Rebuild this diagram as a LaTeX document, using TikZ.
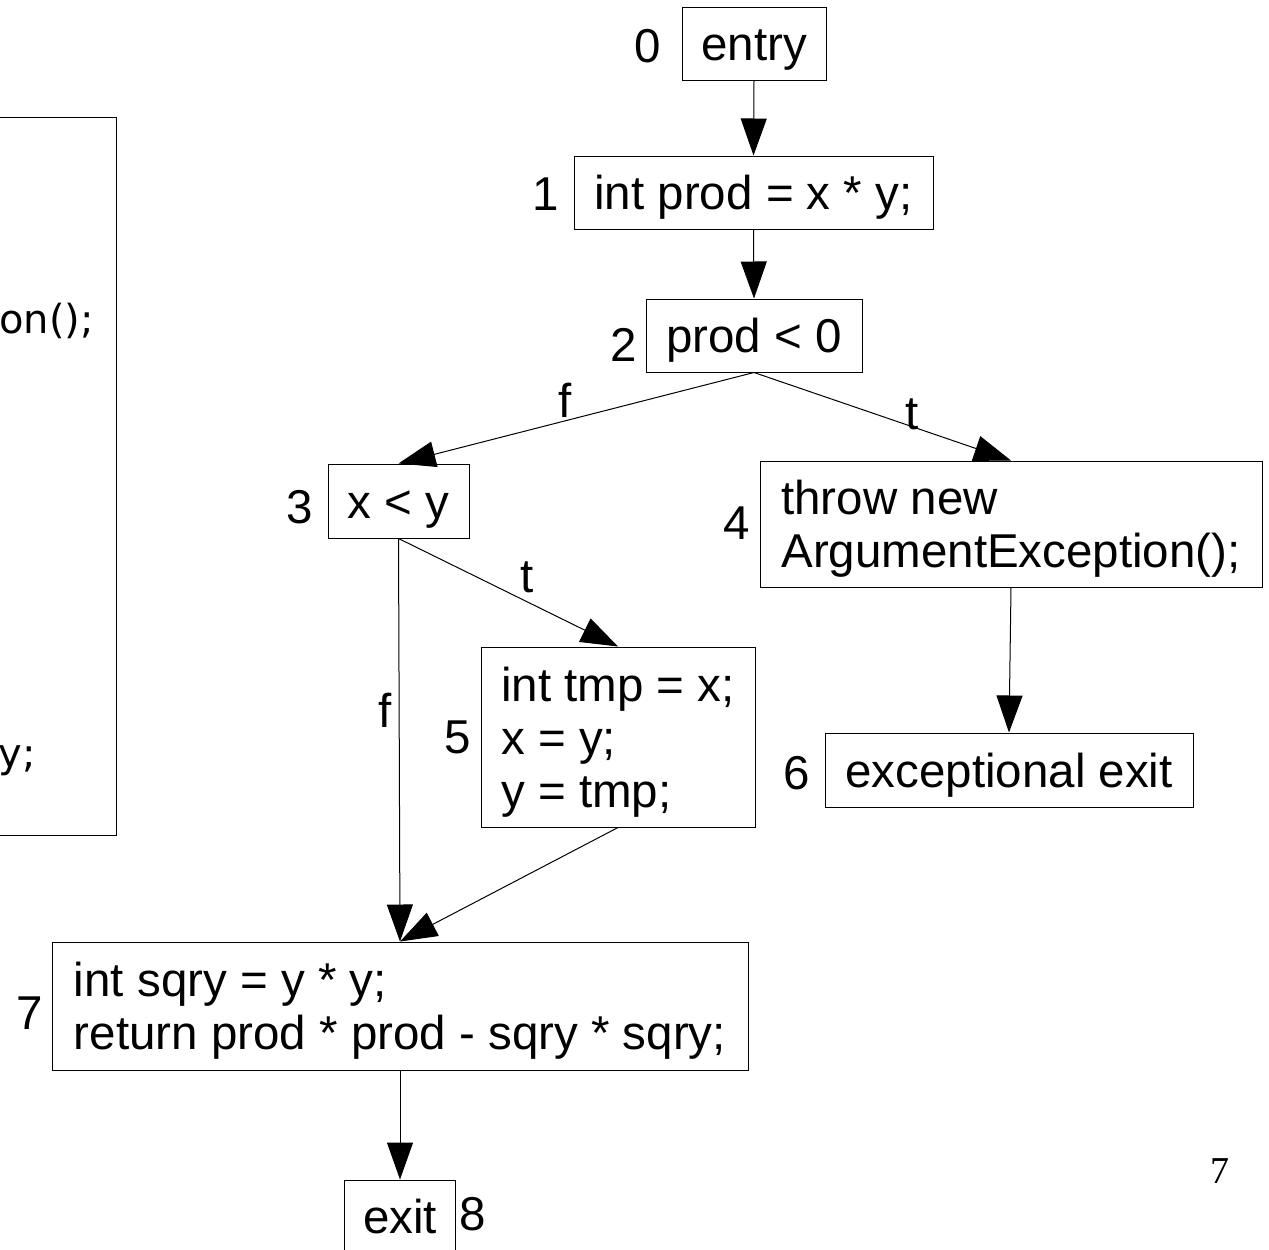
\documentclass[tikz,border=0pt]{standalone}
\usepackage{fontspec}
\setmainfont{Liberation Sans}
\newfontfamily\codefont{DejaVu Sans}
\newfontfamily\pagefont{Liberation Serif}
\usetikzlibrary{arrows.meta}
\newcommand\topstrut{\rule{0pt}{44pt}}
\newcommand\botstrut{\rule[-10pt]{0pt}{10pt}}
\begin{document}
\begin{tikzpicture}[x=1pt,y=-1pt,
  every node/.style={font=\fontsize{47.5}{53}\selectfont},
  blk/.style={draw, line width=1pt, inner sep=0pt, align=left},
  one/.style={text height=34pt, text depth=0pt},
  num/.style={inner sep=0pt, text height=34pt, text depth=0pt},
  codetext/.style={inner sep=0pt, anchor=base east, font=\codefont\fontsize{40}{47}\selectfont},
  flow/.style={line width=1pt, -{Triangle[width=26pt,length=37pt]}}
]
\path[use as bounding box] (0,0) rectangle (1269,1250);
\clip (0,0) rectangle (1269,1250);
\fill[white] (0,0) rectangle (1269,1250);

% partial code box at the left edge
\draw[line width=1pt] (-5,117) rectangle (116,835);
\node[codetext] (codeA) at (94,333) {on();};
\node[codetext] (codeB) at (36,767) {y;};

% blocks
\node[blk, one, minimum width=144pt, minimum height=73pt] (n0) at (754,43.5) {entry};
\node[blk, one, minimum width=359pt, minimum height=73pt] (n1) at (753.5,192.5) {int prod = x * y;};
\node[blk, one, minimum width=216pt, minimum height=73pt] (n2) at (754,335.5) {prod < 0};
\node[blk, one, minimum width=141pt, minimum height=74pt] (n3) at (398.5,501) {x < y};
\node[blk, minimum width=502pt, minimum height=126pt] (n4) at (1011,524) {\topstrut throw new\\ArgumentException();\botstrut};
\node[blk, minimum width=274pt, minimum height=180pt] (n5) at (618,737) {\topstrut int tmp = x;\\x = y;\\y = tmp;\botstrut};
\node[blk, one, minimum width=368pt, minimum height=74pt] (n6) at (1009,770) {exceptional exit};
\node[blk, minimum width=696pt, minimum height=128pt] (n7) at (400,1006) {\topstrut int sqry = y * y;\\return prod * prod - sqry * sqry;\botstrut};
\node[blk, one, minimum width=111pt, minimum height=73pt] (n8) at (400,1216.5) {exit};

% block numbers
\node[num] (l0) at (648,45) {0};
\node[num] (l1) at (546,193) {1};
\node[num] (l2) at (624,344) {2};
\node[num] (l3) at (300,506) {3};
\node[num] (l4) at (737,522) {4};
\node[num] (l5) at (458,736) {5};
\node[num] (l6) at (797,772) {6};
\node[num] (l7) at (30,1012) {7};
\node[num] (l8) at (473,1213) {8};

% connectors
\draw[flow] (n0.south) -- (n1.north);
\draw[flow] (n1.south) -- (n2.north);
\draw[flow] (n2.south) -- (n3.north);
\draw[flow] (n2.south) -- (n4.north);
\draw[flow] (n3.south) -- (n5.north);
\draw[flow] (n3.south) -- (n7.north);
\draw[flow] (n5.south) -- (n7.north);
\draw[flow] (n4.south) -- (n6.north);
\draw[flow] (n7.south) -- (n8.north);

% edge labels
\node[num] (e23) at (565,400) {f};
\node[num] (e24) at (912,412) {t};
\node[num] (e35) at (527,575) {t};
\node[num] (e37) at (385,710) {f};

% page number
\node[inner sep=0pt, font=\pagefont\fontsize{38}{44}\selectfont, text height=26pt, text depth=0pt] (page) at (1220,1170) {7};
\end{tikzpicture}
\end{document}
